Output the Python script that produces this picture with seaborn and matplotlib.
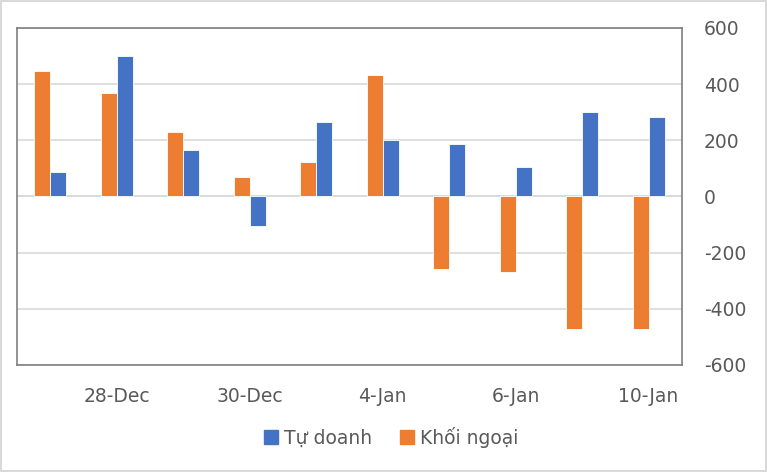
import matplotlib.pyplot as plt
import pandas as pd
import seaborn as sns
from matplotlib.patches import Patch

# dữ liệu (tỷ đồng)
ngay = ["27-Dec", "28-Dec", "29-Dec", "30-Dec", "31-Dec",
        "4-Jan", "5-Jan", "6-Jan", "7-Jan", "10-Jan"]
khoi_ngoai = [448, 368, 230, 68, 121, 433, -260, -270, -473, -473]
tu_doanh = [88, 501, 165, -105, 265, 200, 187, 105, 300, 283]
nhan_hien = ["28-Dec", "30-Dec", "4-Jan", "6-Jan", "10-Jan"]

mau_cam = "#ED7D31"
mau_xanh = "#4472C4"
mau_chu = "#595959"

df = pd.DataFrame({
    "ngay": ngay * 2,
    "gia_tri": khoi_ngoai + tu_doanh,
    "nhom": ["Khối ngoại"] * len(ngay) + ["Tự doanh"] * len(ngay),
})

sns.set_theme(style="white")
plt.rcParams["font.family"] = ["DejaVu Sans"]
plt.rcParams["axes.unicode_minus"] = False

fig = plt.figure(figsize=(7.67, 4.72), dpi=100, linewidth=1.5, edgecolor="#d9d9d9")
ax = fig.add_axes([0.022, 0.227, 0.867, 0.714])

sns.barplot(data=df, x="ngay", y="gia_tri", hue="nhom",
            hue_order=["Khối ngoại", "Tự doanh"],
            palette=[mau_cam, mau_xanh], saturation=1, width=0.48,
            edgecolor="white", linewidth=0.6, ax=ax, legend=False)

ax.set_ylim(-600, 600)
ax.set_yticks(range(-600, 601, 200))
ax.yaxis.tick_right()
ax.grid(axis="y", color="#d9d9d9", linewidth=1.2)
ax.set_axisbelow(True)
ax.axhline(0, color="#d9d9d9", linewidth=1.2, zorder=0)

vi_tri = [ngay.index(n) for n in nhan_hien]
ax.set_xticks(vi_tri)
ax.set_xticklabels(nhan_hien)
ax.tick_params(axis="both", labelsize=13.5, colors=mau_chu, length=0)
ax.tick_params(axis="x", pad=16)
ax.tick_params(axis="y", pad=16)
ax.set_xlabel("")
ax.set_ylabel("")

for s in ax.spines.values():
    s.set_color("#7f7f7f")
    s.set_linewidth(1.2)

handles = [Patch(color=mau_xanh, label="Tự doanh"),
           Patch(color=mau_cam, label="Khối ngoại")]
fig.legend(handles=handles, loc="center", bbox_to_anchor=(0.51, 0.074), ncol=2,
           frameon=False, fontsize=13.5, labelcolor=mau_chu,
           handlelength=0.75, handleheight=0.75, handletextpad=0.3, columnspacing=1.5)

fig.savefig("out.png", dpi=100)
